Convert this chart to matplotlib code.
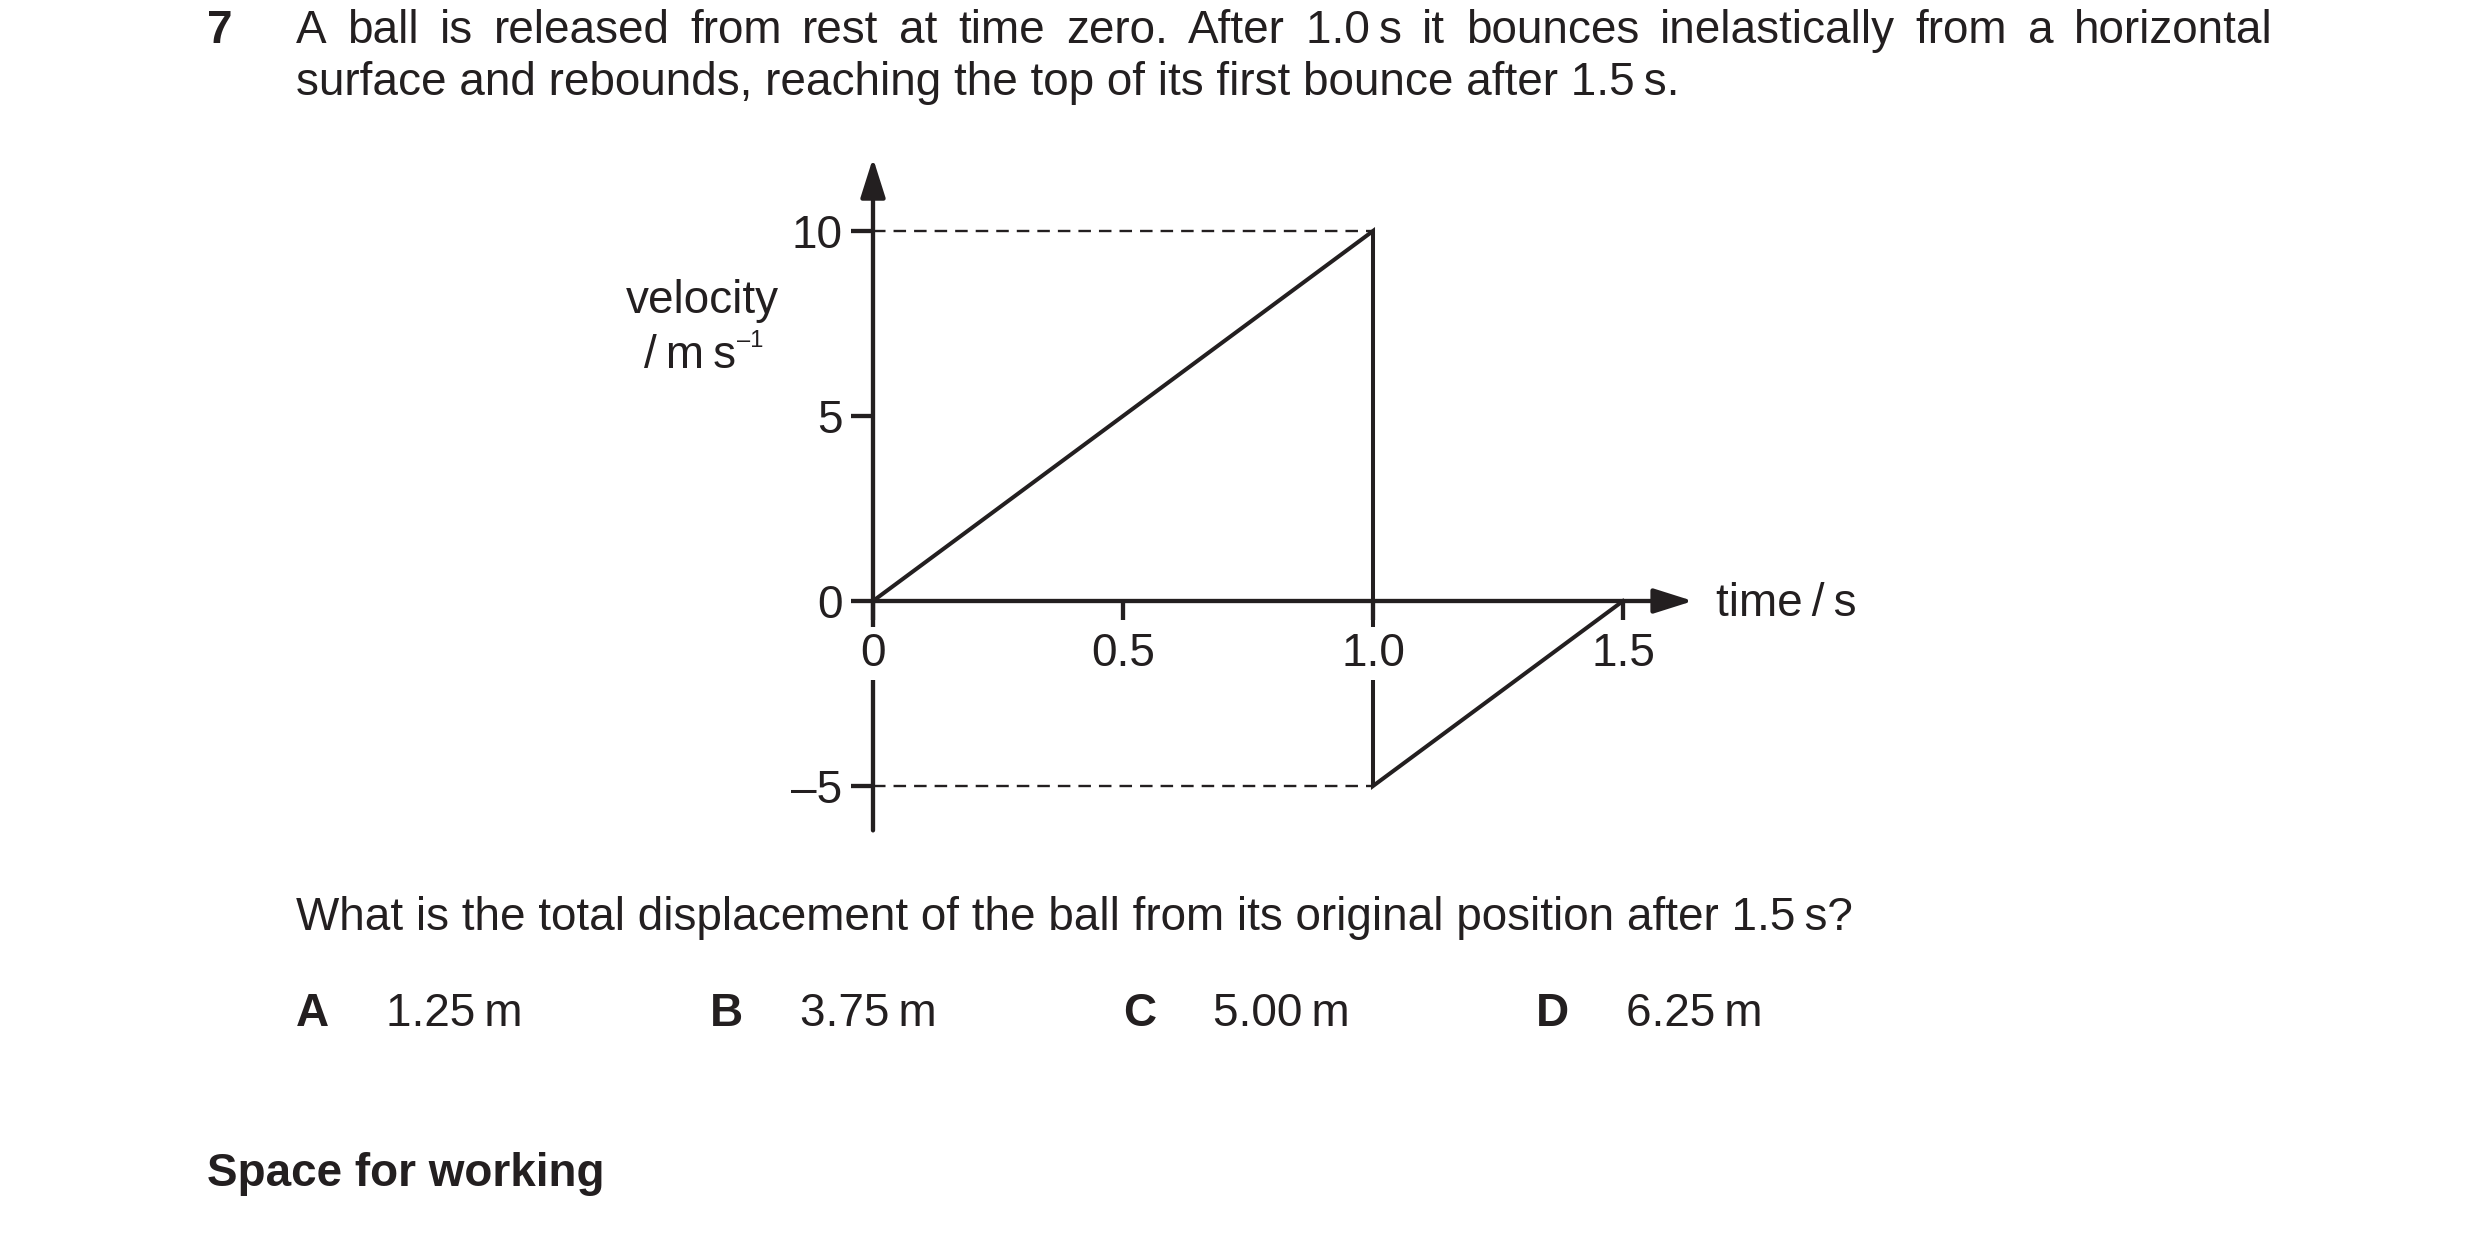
import matplotlib
matplotlib.use("Agg")
import matplotlib.pyplot as plt

W, H = 2480, 1233
INK = "#231f20"
FONT = "Liberation Sans"
FS = 33

# velocity-time graph of the ball
t = [0, 1.0, 1.0, 1.5]
v = [0, 10, -5, 0]
xticks = [0, 0.5, 1.0, 1.5]
xticklabels = ["0", "0.5", "1.0", "1.5"]
yticks = [-5, 0, 5, 10]
yticklabels = ["–5", "0", "5", "10"]

# guide lines (dashed) from the v axis to t = 1.0
guide_v = [10, -5]
guide_t = [0, 1.0]

q_number = "7"
q_line1 = ["A", "ball", "is", "released", "from", "rest", "at", "time", "zero.", "After",
           "1.0\u2009s", "it", "bounces", "inelastically", "from", "a", "horizontal"]
q_line2 = "surface and rebounds, reaching the top of its first bounce after 1.5\u2009s."
q_ask = "What is the total displacement of the ball from its original position after 1.5\u2009s?"
opt_letters = ["A", "B", "C", "D"]
opt_answers = ["1.25\u2009m", "3.75\u2009m", "5.00\u2009m", "6.25\u2009m"]

plt.rcParams["font.family"] = [FONT, "DejaVu Sans"]

fig = plt.figure(figsize=(W / 100, H / 100), dpi=100)
fig.patch.set_facecolor("white")


def fx(x):
    return x / W


def fy(y):
    return 1 - y / H


# axes placed so that t=0..1.5 -> px 873..1623 and v=-5..10 -> px 786..231
ax = fig.add_axes([fx(873), fy(786), 750 / W, 555 / H])
ax.set_xlim(0, 1.5)
ax.set_ylim(-5, 10)
ax.patch.set_alpha(0)
for s in ax.spines.values():
    s.set_visible(False)
ax.spines["bottom"].set_position(("data", 0))
ax.set_axisbelow(False)

ax.plot(t, v, color=INK, lw=2.9, solid_joinstyle="miter", clip_on=False, zorder=2)
for gv in guide_v:
    ax.plot(guide_t, [gv, gv], color=INK, lw=1.7, ls=(0, (5.3, 3.4)), clip_on=False, zorder=1)

# axes with arrow heads
arrow = dict(arrowstyle="-|>,head_length=1.2,head_width=0.38", color=INK, lw=3.1,
             mutation_scale=20, shrinkA=0, shrinkB=0)
ax.annotate("", xy=(0, 11.97), xytext=(0, -6.2), arrowprops=arrow, annotation_clip=False,
            zorder=2)
ax.annotate("", xy=(1.64, 0), xytext=(0, 0), arrowprops=arrow, annotation_clip=False,
            zorder=2)

ax.set_xticks(xticks)
ax.set_xticklabels(xticklabels)
ax.set_yticks(yticks)
ax.set_yticklabels(yticklabels)
ax.tick_params(axis="x", direction="out", length=14, width=3.1, pad=8, labelsize=FS,
               colors=INK)
ax.tick_params(axis="y", direction="out", length=16, width=3.1, pad=6, labelsize=FS,
               colors=INK)
for lab in ax.get_xticklabels():
    if lab.get_text() in ("0", "1.0"):
        lab.set_bbox(dict(boxstyle="square,pad=0.1", fc="white", ec="none"))

# axis labels
fig.text(fx(1716), fy(616), "time\u2009/\u2009s", fontsize=FS, color=INK, va="baseline")
fig.text(fx(702), fy(313), "velocity", fontsize=FS, color=INK, ha="center", va="baseline")
unit = fig.text(fx(644), fy(368), "/\u2009m\u2009s", fontsize=FS, color=INK, va="baseline")

fig.canvas.draw()
r = fig.canvas.get_renderer()
ub = unit.get_window_extent(r)
fig.text((ub.x1 + 1) / W, fy(347), "–1", fontsize=17, color=INK, va="baseline")

# question text
fig.text(fx(207), fy(43), q_number, fontsize=FS, weight="bold", color=INK, va="baseline")
left, right = 296, 2273
words = [fig.text(0, fy(43), w, fontsize=FS, color=INK, va="baseline") for w in q_line1]
fig.canvas.draw()
widths = [w.get_window_extent(r).width for w in words]
gap = (right - left - sum(widths)) / (len(words) - 1)
x = left
for w, wd in zip(words, widths):
    w.set_x(fx(x))
    x += wd + gap
fig.text(fx(296), fy(95), q_line2, fontsize=FS, color=INK, va="baseline")

fig.text(fx(296), fy(930), q_ask, fontsize=FS, color=INK, va="baseline")
opt_x = [296, 710, 1123, 1536]
for ox, letter, ans in zip(opt_x, opt_letters, opt_answers):
    fig.text(fx(ox), fy(1026), letter, fontsize=FS, weight="bold", color=INK, va="baseline")
    fig.text(fx(ox + 90), fy(1026), ans, fontsize=FS, color=INK, va="baseline")

fig.text(fx(207), fy(1186), "Space for working", fontsize=FS, weight="bold", color=INK,
         va="baseline")

fig.savefig("out.png", dpi=100, facecolor="white")
